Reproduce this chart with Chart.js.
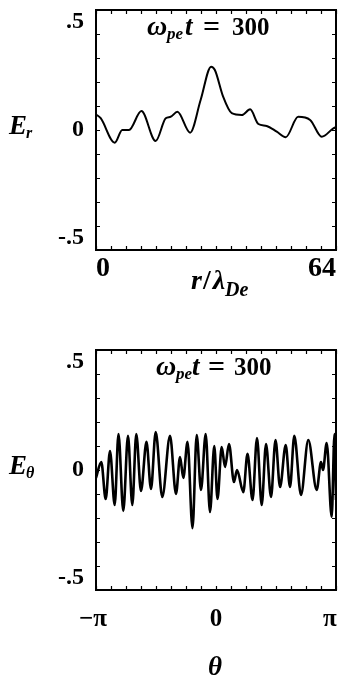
<!DOCTYPE html>
<html>
<head>
<meta charset="utf-8">
<script src="https://cdn.jsdelivr.net/npm/chart.js@4/dist/chart.umd.min.js"></script>
<style>
  html, body { margin: 0; padding: 0; background: #fff; }
  body { width: 340px; height: 677px; position: relative; overflow: hidden; }
  canvas { position: absolute; left: 0; }
  #c1 { top: 0; }
  #c2 { top: 330px; }
</style>
</head>
<body>
<canvas id="c1" width="340" height="330"></canvas>
<canvas id="c2" width="340" height="347"></canvas>
<script>
// ---- Data: top panel (E_r vs r/lambda_De) ----
const rValues = [0, 1.25, 5.0, 7.0, 8.8, 12.1, 15.9, 18.6, 19.9, 21.7, 25.1, 27.9, 30.7, 31.7, 33.9, 36.2, 38.9, 41.1, 43.3, 45.5, 48.2, 50.6, 53.9, 57.1, 60.2, 63.3, 64];
const erValues = [0.065, 0.049, -0.053, 0, 0, 0.079, -0.046, 0.049, 0.055, 0.076, -0.011, 0.125, 0.264, 0.25, 0.139, 0.07, 0.0625, 0.086, 0.025, 0.017, -0.007, -0.03, 0.055, 0.042, -0.028, 0.007, 0.012];

// ---- Data: bottom panel (E_theta vs theta) ----
const thetaValues = [-3.142, -3.003, -2.888, -2.775, -2.652, -2.553, -2.427, -2.304, -2.191, -2.087, -1.964, -1.820, -1.702, -1.579, -1.406, -1.204, -1.047, -0.942, -0.856, -0.746, -0.615, -0.505, -0.393, -0.270, -0.157, -0.045, 0.039, 0.149, 0.236, 0.340, 0.471, 0.550, 0.715, 0.825, 0.956, 1.073, 1.197, 1.309, 1.440, 1.558, 1.676, 1.825, 1.937, 2.050, 2.225, 2.416, 2.636, 2.749, 2.801, 2.898, 3.029, 3.102, 3.142];
const ethetaValues = [-0.033, 0.033, -0.121, 0.079, -0.146, 0.15, -0.171, 0.142, -0.146, 0.15, -0.0875, 0.117, -0.079, 0.158, -0.1125, 0.142, -0.1, 0.054, -0.033, 0.117, -0.242, 0.146, -0.083, 0.15, -0.175, 0.1, -0.121, 0.096, 0.0125, 0.108, -0.05, 0, -0.092, 0.067, -0.125, 0.133, -0.146, 0.108, -0.1125, 0.125, -0.071, 0.104, -0.071, 0.142, -0.104, 0.125, -0.083, 0.033, 0, 0.1125, -0.196, 0.15, -0.125];

// ---- Tick labels ----
// end labels sit just inside the frame (pushed in by an empty line)
const yTickLabels = { '0.5': ['', '.5'], '0': '0', '-0.5': ['-.5', ''] };
const rTickLabels = { '0': '0', '64': '64' };
const thetaTickLabels = ['\u2212\u03C0 ', '0', '\u03C0  '];
const titleText = { main: '\u03C9', sub: 'pe', rest: 't', eq: '=', num: '300' };

const SERIF = "'Liberation Serif', 'DejaVu Serif', serif";

function yLabel(v) {
  const k = (Math.round(v * 10) / 10).toString();
  return yTickLabels[k] !== undefined ? yTickLabels[k] : '';
}

// Inward tick marks, frame, in-plot title and axis titles
function framePlugin(opts) {
  return {
    id: 'frame' + opts.id,
    afterDatasetsDraw(chart) {
      const ctx = chart.ctx;
      const a = chart.chartArea;
      const xs = chart.scales.x, ys = chart.scales.y;
      ctx.save();
      ctx.strokeStyle = '#000';
      ctx.lineWidth = 2;
      ctx.strokeRect(a.left, a.top, a.right - a.left, a.bottom - a.top);
      ctx.lineWidth = 1.2;
      ctx.beginPath();
      xs.ticks.forEach(t => {
        const px = Math.round(xs.getPixelForValue(t.value)) + 0.5;
        ctx.moveTo(px, a.bottom); ctx.lineTo(px, a.bottom - 4);
        ctx.moveTo(px, a.top); ctx.lineTo(px, a.top + 4);
      });
      ys.ticks.forEach(t => {
        const py = Math.round(ys.getPixelForValue(t.value)) + 0.5;
        ctx.moveTo(a.left, py); ctx.lineTo(a.left + 4, py);
        ctx.moveTo(a.right, py); ctx.lineTo(a.right - 4, py);
      });
      ctx.stroke();

      // in-plot title  ω_pe t = 300
      ctx.fillStyle = '#000';
      ctx.textBaseline = 'alphabetic';
      const d = opts.titleDx;
      const by = a.top + 25;
      ctx.font = 'italic bold 28px ' + SERIF;
      ctx.fillText(titleText.main, a.left + d[0], by);
      ctx.font = 'italic bold 17px ' + SERIF;
      ctx.fillText(titleText.sub, a.left + d[1], by + 4);
      ctx.font = 'italic bold 27px ' + SERIF;
      ctx.fillText(titleText.rest, a.left + d[2], by);
      ctx.font = 'bold 30px ' + SERIF;
      ctx.fillText(titleText.eq, a.left + d[3], by + 1);
      ctx.font = 'bold 25px ' + SERIF;
      ctx.fillText(titleText.num, a.left + d[4], by);

      // y-axis title
      const zy = ys.getPixelForValue(0);
      ctx.font = 'italic bold 27px ' + SERIF;
      ctx.fillText('E', 9, zy + 4);
      const ew = ctx.measureText('E').width;
      ctx.font = 'italic bold 16px ' + SERIF;
      ctx.fillText(opts.ySub, 9 + ew - 1, zy + 8);

      // x-axis title
      opts.drawXTitle(ctx, a);
      ctx.restore();
    }
  };
}

function makeChart(canvasId, xs, ys, cfg) {
  const points = xs.map((x, i) => ({ x: x, y: ys[i] }));
  return new Chart(document.getElementById(canvasId), {
    type: 'line',
    data: {
      datasets: [{
        data: points,
        borderColor: '#000',
        borderWidth: cfg.lineWidth,
        pointRadius: 0,
        fill: false,
        cubicInterpolationMode: 'monotone'
      }]
    },
    options: {
      responsive: false,
      animation: false,
      events: [],
      layout: { padding: { left: 0, right: 4, top: cfg.padTop, bottom: 0 } },
      plugins: { legend: { display: false }, tooltip: { enabled: false }, title: { display: false } },
      scales: {
        x: {
          type: 'linear',
          min: cfg.xMin, max: cfg.xMax,
          grid: { display: false, drawTicks: false },
          border: { display: false },
          afterBuildTicks: cfg.xTicksBuilder,
          afterFit: s => { s.height = cfg.xHeight; s.paddingLeft = 0; s.paddingRight = 0; },
          ticks: {
            autoSkip: false, maxRotation: 0, minRotation: 0,
            align: cfg.xAlign,
            padding: cfg.xPad,
            color: '#000',
            font: { family: SERIF, size: cfg.xFont, weight: 'bold' },
            callback: cfg.xLabel
          }
        },
        y: {
          type: 'linear',
          min: -0.5, max: 0.5,
          grid: { display: false, drawTicks: false },
          border: { display: false },
          afterBuildTicks: s => {
            const t = [];
            for (let k = -5; k <= 5; k++) t.push({ value: k / 10 });
            s.ticks = t;
          },
          afterFit: s => { s.width = 96; s.paddingTop = 0; s.paddingBottom = 0; },
          ticks: {
            autoSkip: false,
            padding: 12,
            color: '#000',
            font: { family: SERIF, size: 24, weight: 'bold', lineHeight: 1.0 },
            callback: v => yLabel(v)
          }
        }
      }
    },
    plugins: [framePlugin(cfg.frame)]
  });
}

// Top panel
makeChart('c1', rValues, erValues, {
  lineWidth: 2,
  padTop: 10,
  xMin: 0, xMax: 64,
  xHeight: 80,
  xAlign: 'inner',
  xPad: 2,
  xFont: 28,
  xTicksBuilder: s => {
    const t = [];
    for (let v = 0; v <= 64; v += 4) t.push({ value: v });
    s.ticks = t;
  },
  xLabel: v => (rTickLabels[String(v)] !== undefined ? rTickLabels[String(v)] : ''),
  frame: {
    id: 'top', titleDx: [51, 71, 89, 107, 136], ySub: 'r',
    drawXTitle: (ctx, a) => {
      let x = 191; const by = 289;
      ctx.font = 'italic bold 28px ' + SERIF;
      ctx.fillText('r', x, by); x += ctx.measureText('r').width + 1;
      ctx.font = 'bold 28px ' + SERIF;
      ctx.fillText('/', x, by); x += ctx.measureText('/').width + 2;
      ctx.font = 'italic bold 28px ' + SERIF;
      ctx.fillText('\u03BB', x, by); x += ctx.measureText('\u03BB').width;
      ctx.font = 'italic bold 20px ' + SERIF;
      ctx.fillText('De', x, by + 7);
    }
  }
});

// Bottom panel
makeChart('c2', thetaValues, ethetaValues, {
  lineWidth: 2.6,
  padTop: 20,
  xMin: -Math.PI, xMax: Math.PI,
  xHeight: 87,
  xAlign: 'center',
  xPad: 15,
  xFont: 25,
  xTicksBuilder: s => {
    const t = [];
    for (let k = -8; k <= 8; k++) t.push({ value: k * Math.PI / 8 });
    s.ticks = t;
  },
  xLabel: (v, i) => (i === 0 ? thetaTickLabels[0] : i === 8 ? thetaTickLabels[1] : i === 16 ? thetaTickLabels[2] : ''),
  frame: {
    id: 'bot', titleDx: [60, 80, 96, 112, 138], ySub: '\u03B8',
    drawXTitle: (ctx, a) => {
      ctx.font = 'italic bold 27px ' + SERIF;
      ctx.textAlign = 'center';
      ctx.fillText('\u03B8', (a.left + a.right) / 2 - 1, 345);
      ctx.textAlign = 'left';
    }
  }
});
</script>
</body>
</html>
